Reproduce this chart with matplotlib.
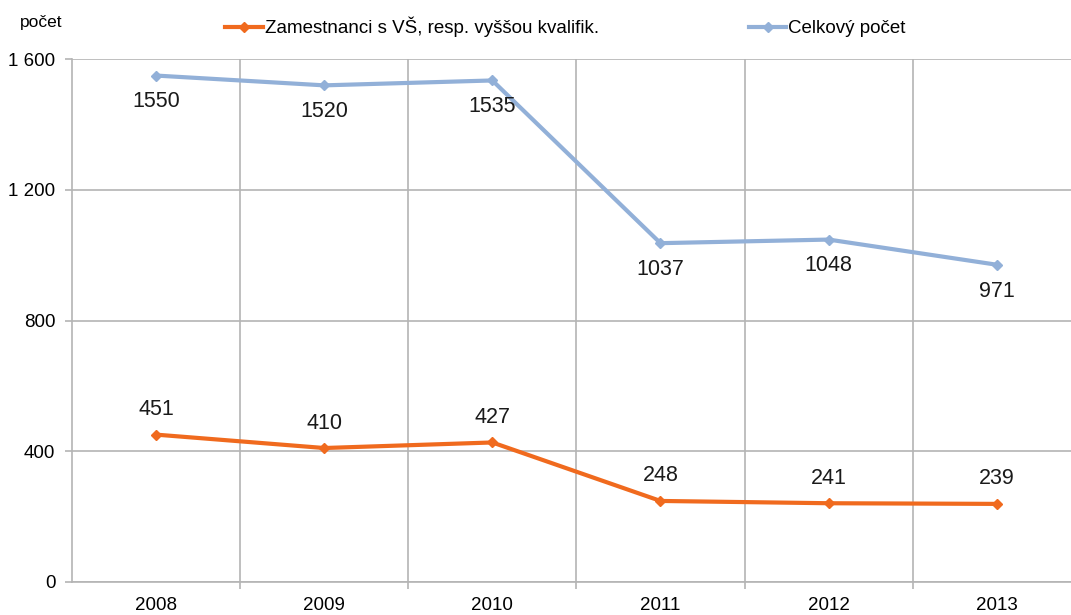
import numpy as np
import matplotlib.pyplot as plt

YEARS = ["2008", "2009", "2010", "2011", "2012", "2013"]
VS_STAFF = [451, 410, 427, 248, 241, 239]
TOTAL = [1550, 1520, 1535, 1037, 1048, 971]

ORANGE = "#F06A1E"
BLUE = "#92B0D8"
GRID = "#B4B4B4"

plt.rcParams["font.family"] = ["Liberation Sans", "DejaVu Sans"]

fig = plt.figure(figsize=(10.71, 6.15), dpi=100)
ax = fig.add_axes([0.0672, 0.0537, 0.942, 0.850])

x = np.arange(len(YEARS))
l1, = ax.plot(x, VS_STAFF, color=ORANGE, lw=3, marker="D", ms=5.5,
              label="Zamestnanci s VŠ, resp. vyššou kvalifik.")
l2, = ax.plot(x, TOTAL, color=BLUE, lw=3, marker="D", ms=5.5,
              label="Celkový počet")

for xi, v in zip(x, VS_STAFF):
    ax.annotate(str(v), (xi, v), xytext=(0, 18), textcoords="offset points",
                ha="center", va="center", fontsize=15.5, color="#1a1a1a")
for xi, v in zip(x, TOTAL):
    ax.annotate(str(v), (xi, v), xytext=(0, -19), textcoords="offset points",
                ha="center", va="center", fontsize=15.5, color="#1a1a1a")

ax.set_xlim(-0.5, 5.5)
ax.set_ylim(0, 1600)
ax.set_xticks(x)
ax.set_xticklabels(YEARS)
ax.set_xticks(x[:-1] + 0.5, minor=True)
ax.set_yticks([0, 400, 800, 1200, 1600])
ax.set_yticklabels(["0", "400", "800", "1 200", "1 600"])

ax.tick_params(axis="x", which="major", length=0, pad=11, labelsize=13.5)
ax.tick_params(axis="x", which="minor", length=5, color=GRID, width=1.2)
ax.tick_params(axis="y", length=5, color=GRID, width=1.2, pad=7, labelsize=13.5)
ax.grid(True, axis="y", color=GRID, lw=1.2)
ax.grid(True, axis="x", which="minor", color=GRID, lw=1.2)
ax.set_axisbelow(True)
for s in ["top", "right"]:
    ax.spines[s].set_visible(False)
for s in ["left", "bottom"]:
    ax.spines[s].set_color(GRID)
    ax.spines[s].set_linewidth(1.2)

fig.text(0.019, 0.963, "počet", fontsize=12.5, ha="left", va="center")
fig.legend(handles=[l1, l2], loc="center", bbox_to_anchor=(0.528, 0.956),
           ncol=2, frameon=False, fontsize=13.5, handlelength=2.0,
           handletextpad=0.1, columnspacing=8.0)

fig.savefig("out.png", dpi=100)
